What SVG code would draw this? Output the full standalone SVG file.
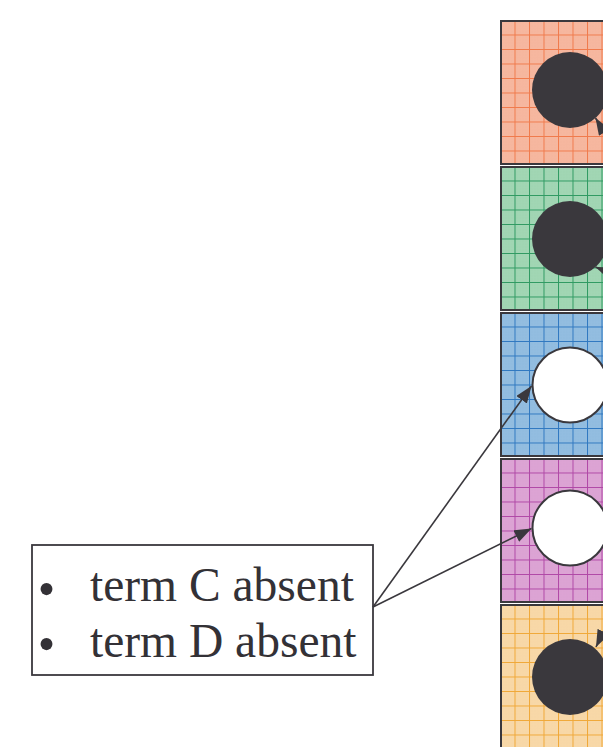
<svg xmlns="http://www.w3.org/2000/svg" width="603" height="747" viewBox="0 0 603 747">
  <style>
    .frame { stroke: #3a383d; stroke-width: 2; }
    .dot { fill: #3a383d; }
    .hole { fill: #ffffff; stroke: #3a383d; stroke-width: 2; }
    .link { stroke: #3a383d; stroke-width: 1.6; fill: none; marker-end: url(#head); }
    .label { font-family: "Liberation Serif", "Times New Roman", serif; font-size: 47.5px; fill: #333136; }
    .bullet { font-family: "Liberation Serif", "Times New Roman", serif; font-size: 50px; fill: #333136; text-anchor: middle; }
    .fine { stroke-width: 0.3; opacity: 0.1; }
  </style>
  <defs>
    <marker id="head" markerUnits="userSpaceOnUse" markerWidth="18" markerHeight="14" refX="17" refY="6.5" orient="auto">
      <path d="M0,0 L17,6.5 L0,13 z" fill="#3a383d"/>
    </marker>
    <!-- graph-paper fills, one per panel -->
    <pattern id="gridA" patternUnits="userSpaceOnUse" x="500" y="20" width="14.5" height="14.5">
      <rect width="14.5" height="14.5" fill="#f6b79f"/>
      <path d="M0,2.9H14.5M0,5.8H14.5M0,8.7H14.5M0,11.6H14.5M2.9,0V14.5M5.8,0V14.5M8.7,0V14.5M11.6,0V14.5" stroke="#f0906a" class="fine"/>
      <path d="M0,0.5H14.5M0.5,0V14.5" stroke="#f07a4c" stroke-width="1"/>
    </pattern>
    <pattern id="gridB" patternUnits="userSpaceOnUse" x="500" y="166" width="14.5" height="14.5">
      <rect width="14.5" height="14.5" fill="#a2d6b4"/>
      <path d="M0,2.9H14.5M0,5.8H14.5M0,8.7H14.5M0,11.6H14.5M2.9,0V14.5M5.8,0V14.5M8.7,0V14.5M11.6,0V14.5" stroke="#5fb085" class="fine"/>
      <path d="M0,0.5H14.5M0.5,0V14.5" stroke="#2f9a62" stroke-width="1"/>
    </pattern>
    <pattern id="gridC" patternUnits="userSpaceOnUse" x="500" y="312" width="14.5" height="14.5">
      <rect width="14.5" height="14.5" fill="#93bde0"/>
      <path d="M0,2.9H14.5M0,5.8H14.5M0,8.7H14.5M0,11.6H14.5M2.9,0V14.5M5.8,0V14.5M8.7,0V14.5M11.6,0V14.5" stroke="#5a95cc" class="fine"/>
      <path d="M0,0.5H14.5M0.5,0V14.5" stroke="#2f78c0" stroke-width="1"/>
    </pattern>
    <pattern id="gridD" patternUnits="userSpaceOnUse" x="500" y="458" width="14.5" height="14.5">
      <rect width="14.5" height="14.5" fill="#dca4d4"/>
      <path d="M0,2.9H14.5M0,5.8H14.5M0,8.7H14.5M0,11.6H14.5M2.9,0V14.5M5.8,0V14.5M8.7,0V14.5M11.6,0V14.5" stroke="#c070b8" class="fine"/>
      <path d="M0,0.5H14.5M0.5,0V14.5" stroke="#b048a6" stroke-width="1"/>
    </pattern>
    <pattern id="gridE" patternUnits="userSpaceOnUse" x="500" y="604" width="14.5" height="14.5">
      <rect width="14.5" height="14.5" fill="#f8d8a8"/>
      <path d="M0,2.9H14.5M0,5.8H14.5M0,8.7H14.5M0,11.6H14.5M2.9,0V14.5M5.8,0V14.5M8.7,0V14.5M11.6,0V14.5" stroke="#f0b868" class="fine"/>
      <path d="M0,0.5H14.5M0.5,0V14.5" stroke="#f0a838" stroke-width="1"/>
    </pattern>
  </defs>

  <g id="panel-a">
    <rect x="501" y="21" width="140" height="143" fill="url(#gridA)" class="frame"/>
    <circle cx="570" cy="90" r="38" class="dot"/>
  </g>
  <g id="panel-b">
    <rect x="501" y="167" width="140" height="143" fill="url(#gridB)" class="frame"/>
    <circle cx="570" cy="239" r="38" class="dot"/>
  </g>
  <g id="panel-c">
    <rect x="501" y="313" width="140" height="143" fill="url(#gridC)" class="frame"/>
    <circle cx="570" cy="385" r="37.5" class="hole"/>
  </g>
  <g id="panel-d">
    <rect x="501" y="459" width="140" height="143" fill="url(#gridD)" class="frame"/>
    <circle cx="570" cy="528" r="37.5" class="hole"/>
  </g>
  <g id="panel-e">
    <rect x="501" y="605" width="140" height="160" fill="url(#gridE)" class="frame"/>
    <circle cx="570" cy="677" r="38" class="dot"/>
  </g>

  <g id="note">
    <rect x="32" y="545" width="341" height="130" fill="#ffffff" stroke="#3a383d" stroke-width="1.8"/>
    <text x="46.5" y="606" class="bullet">•</text>
    <text x="90" y="601" class="label">term C absent</text>
    <text x="46.5" y="661" class="bullet">•</text>
    <text x="90" y="657" class="label">term D absent</text>
  </g>

  <g id="connectors">
    <path d="M616,151 L595.5,118" class="link"/>
    <path d="M640,285 L595.5,267" class="link"/>
    <path d="M614,610 L596,647" class="link"/>
    <path d="M373,607 L531.5,386" class="link"/>
    <path d="M373,607 L531.5,528.5" class="link"/>
  </g>
</svg>
